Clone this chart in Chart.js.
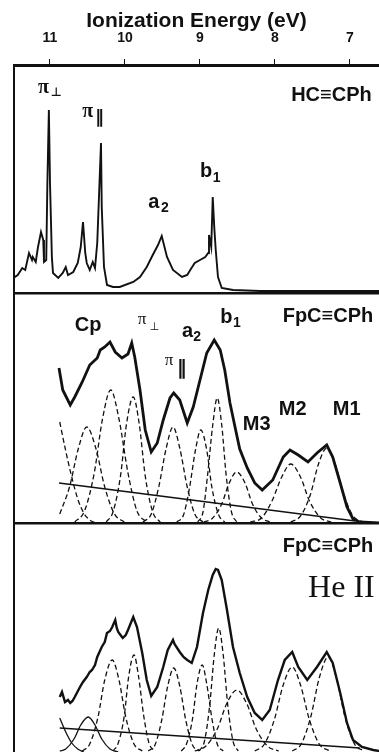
<!DOCTYPE html>
<html>
<head>
<meta charset="utf-8">
<script src="https://cdn.jsdelivr.net/npm/chart.js@4.4.1/dist/chart.umd.min.js"></script>
<style>
    html, body { margin: 0; padding: 0; background: #fff; }
    #wrap { position: relative; width: 379px; height: 752px; overflow: hidden; }
    .panel { position: absolute; left: 0; width: 379px; }
</style>
</head>
<body>
<div id="wrap">
    <div class="panel" style="top:0;height:293px"><canvas id="top-chart"></canvas></div>
    <div class="panel" style="top:290px;height:233px"><canvas id="mid-chart"></canvas></div>
    <div class="panel" style="top:520px;height:232px"><canvas id="bot-chart"></canvas></div>
</div>
<script>
// Axis
const energyTicks = [11, 10, 9, 8, 7];
const axisTitle = 'Ionization Energy (eV)';
const energyMin = 6.613;
const energyMax = 11.48;

// HC≡CPh, He I spectrum [eV, counts]
const hcSpectrum = [
    [11.49,15],[11.43,18],[11.37,25],[11.33,23],[11.28,40],[11.24,33],[11.23,36],[11.19,31],
    [11.16,46],[11.12,61],[11.09,53],[11.08,31],[11.05,33],[11.035,110],[11.015,183],[11.0,110],
    [10.975,36],[10.96,20],[10.89,15],[10.83,20],[10.79,26],[10.76,18],[10.69,21],[10.63,30],
    [10.59,46],[10.56,71],[10.53,40],[10.51,30],[10.47,23],[10.43,31],[10.40,25],[10.37,50],
    [10.35,90],[10.32,150],[10.31,86],[10.28,26],[10.24,8],[10.16,6],[10.07,6],[9.89,11],
    [9.80,16],[9.71,26],[9.63,38],[9.56,48],[9.51,57],[9.44,36],[9.36,23],[9.24,16],[9.17,18],
    [9.13,23],[9.07,30],[9.00,33],[8.93,36],[8.89,40],[8.88,58],[8.85,46],[8.83,96],[8.81,66],
    [8.79,43],[8.76,16],[8.71,5],[8.56,3],[8.20,2],[6.61,2]
];

// FpC≡CPh, He I: envelope, background and fitted bands
const midSpectrum = [
    [10.88,155],[10.83,133],[10.73,118],[10.67,126],[10.57,141],[10.47,158],[10.37,165],[10.33,173],
    [10.27,176],[10.20,181],[10.13,171],[10.04,165],[9.96,169],[9.91,180],[9.87,166],[9.80,133],
    [9.73,93],[9.65,71],[9.57,80],[9.49,103],[9.40,125],[9.35,130],[9.27,123],[9.17,100],[9.09,116],
    [9.00,143],[8.91,170],[8.81,183],[8.73,173],[8.67,153],[8.60,120],[8.53,95],[8.47,74],[8.37,55],
    [8.27,40],[8.17,33],[8.03,43],[7.89,66],[7.80,73],[7.69,68],[7.56,61],[7.44,70],[7.31,78],
    [7.23,66],[7.13,40],[7.04,16],[6.96,4],[6.87,1],[6.61,0]
];
const midBackground = [[10.88,40],[6.93,2]];
const midBand0 = [[10.87,101],[10.79,72],[10.71,46],[10.63,24],[10.55,10],[10.47,3],[10.39,0]];
const midBand1 = [[10.87,9],[10.74,36],[10.62,75],[10.51,96],[10.39,75],[10.27,36],[10.14,9],[10.01,1]];
const midBand2 = [[10.67,1],[10.54,12],[10.41,50],[10.30,104],[10.19,133],[10.08,104],[9.96,50],[9.84,12],[9.71,1]];
const midBand3 = [[10.25,1],[10.16,11],[10.06,47],[9.98,99],[9.89,126],[9.81,99],[9.73,47],[9.63,11],[9.53,1]];
const midBand4 = [[9.76,1],[9.65,9],[9.55,36],[9.45,75],[9.36,96],[9.27,75],[9.17,36],[9.07,9],[8.96,1]];
const midBand5 = [[9.31,1],[9.22,8],[9.14,35],[9.06,73],[8.99,93],[8.91,73],[8.84,35],[8.75,8],[8.67,1]];
const midBand6 = [[9.03,1],[8.96,11],[8.90,47],[8.83,98],[8.77,125],[8.71,98],[8.65,47],[8.58,11],[8.51,1]];
const midBand7 = [[8.95,1],[8.83,5],[8.71,19],[8.61,40],[8.51,51],[8.40,40],[8.30,19],[8.18,5],[8.07,1]];
const midBand8 = [[8.33,1],[8.18,5],[8.04,22],[7.91,46],[7.79,59],[7.66,46],[7.54,22],[7.39,5],[7.25,1]];
const midBand9 = [[7.79,1],[7.66,7],[7.53,28],[7.42,59],[7.31,75],[7.20,59],[7.08,28],[6.96,7],[6.83,1]];

// FpC≡CPh, He II: envelope, background and fitted bands
const botSpectrum = [
    [10.87,55],[10.84,60],[10.80,50],[10.76,52],[10.73,49],[10.70,51],[10.67,55],[10.60,65],[10.56,70],
    [10.51,75],[10.47,80],[10.44,82],[10.40,87],[10.37,95],[10.31,105],[10.27,110],[10.24,119],[10.20,121],
    [10.17,125],[10.13,132],[10.11,124],[10.09,120],[10.05,116],[10.03,114],[9.99,117],[9.96,122],[9.89,135],
    [9.84,125],[9.77,99],[9.71,72],[9.65,56],[9.57,65],[9.49,85],[9.43,102],[9.36,112],[9.34,108],[9.27,100],
    [9.22,95],[9.17,92],[9.11,89],[9.04,105],[8.96,139],[8.89,162],[8.83,177],[8.79,183],[8.76,182],[8.71,172],
    [8.64,142],[8.56,105],[8.47,79],[8.37,55],[8.27,39],[8.17,32],[8.07,42],[7.96,72],[7.87,92],[7.77,100],
    [7.69,85],[7.57,72],[7.44,85],[7.31,100],[7.23,89],[7.13,59],[7.04,29],[6.96,12],[6.84,5],[6.69,2],[6.61,1]
];
const botBackground = [[10.87,24],[6.87,4]];
const botBand0 = [[10.87,34],[10.79,20],[10.71,9],[10.63,3],[10.55,0]];
const botBand1 = [[10.87,1],[10.79,3],[10.68,13],[10.59,27],[10.49,35],[10.40,27],[10.31,13],[10.20,3],[10.09,0]];
const botBand2 = [[10.57,1],[10.47,8],[10.36,35],[10.27,72],[10.17,92],[10.08,72],[9.99,35],[9.88,8],[9.77,1]];
const botBand3 = [[10.16,1],[10.09,9],[10.01,36],[9.95,76],[9.88,97],[9.82,76],[9.75,36],[9.68,9],[9.60,1]];
const botBand4 = [[9.69,1],[9.60,7],[9.51,32],[9.43,66],[9.35,84],[9.27,66],[9.19,32],[9.10,7],[9.01,1]];
const botBand5 = [[9.25,1],[9.18,8],[9.10,33],[9.04,68],[8.97,87],[8.91,68],[8.84,33],[8.77,8],[8.69,1]];
const botBand6 = [[9.01,1],[8.94,11],[8.87,47],[8.81,97],[8.75,124],[8.69,97],[8.63,47],[8.56,11],[8.49,1]];
const botBand7 = [[9.07,1],[8.92,6],[8.77,23],[8.64,49],[8.51,62],[8.38,49],[8.25,23],[8.10,6],[7.95,1]];
const botBand8 = [[8.27,1],[8.14,8],[8.01,32],[7.89,67],[7.77,85],[7.66,67],[7.54,32],[7.41,8],[7.27,1]];
const botBand9 = [[7.77,1],[7.65,8],[7.52,36],[7.41,74],[7.29,95],[7.18,74],[7.07,36],[6.94,8],[6.81,1]];

// Panel text
const SANS = '"Liberation Sans", Arial, sans-serif';
const SERIF = '"Liberation Serif", "DejaVu Serif", serif';
const SYM = '"DejaVu Sans", sans-serif';

const topLabels = [
    { text: 'π', e: 11.16, i: 200, font: 'bold 20px ' + SERIF },
    { text: '⊥', e: 10.99, i: 197, font: 'bold 12px ' + SYM },
    { text: 'π', e: 10.57, i: 176, font: 'bold 20px ' + SERIF },
    { text: '‖', e: 10.40, i: 170, font: 'bold 18px ' + SYM },
    { text: 'a', e: 9.69, i: 85, font: 'bold 20px ' + SANS },
    { text: '2', e: 9.52, i: 81, font: 'bold 14px ' + SANS },
    { text: 'b', e: 9.0, i: 116, font: 'bold 20px ' + SANS },
    { text: '1', e: 8.83, i: 111, font: 'bold 14px ' + SANS },
    { text: 'HC≡CPh', e: 6.71, i: 192, font: 'bold 20px ' + SANS, align: 'right' }
];
const midLabels = [
    { text: 'FpC≡CPh', e: 6.69, i: 201, font: 'bold 20px ' + SANS, align: 'right' },
    { text: 'Cp', e: 10.67, i: 192, font: 'bold 20px ' + SANS },
    { text: 'π', e: 9.83, i: 199, font: '17px ' + SERIF },
    { text: '⊥', e: 9.67, i: 193, font: '11px ' + SYM },
    { text: 'a', e: 9.24, i: 186, font: 'bold 20px ' + SANS },
    { text: '2', e: 9.09, i: 182, font: 'bold 14px ' + SANS },
    { text: 'b', e: 8.73, i: 200, font: 'bold 20px ' + SANS },
    { text: '1', e: 8.56, i: 196, font: 'bold 14px ' + SANS },
    { text: 'π', e: 9.47, i: 158, font: '17px ' + SERIF },
    { text: '‖', e: 9.31, i: 149, font: 'bold 20px ' + SYM },
    { text: 'M3', e: 8.43, i: 93, font: 'bold 20px ' + SANS },
    { text: 'M2', e: 7.95, i: 108, font: 'bold 20px ' + SANS },
    { text: 'M1', e: 7.23, i: 108, font: 'bold 20px ' + SANS }
];
const botLabels = [
    { text: 'FpC≡CPh', e: 6.69, i: 200, font: 'bold 20px ' + SANS, align: 'right' },
    { text: 'He II', e: 6.67, i: 155, font: '32px ' + SERIF, align: 'right' }
];

const ink = '#111';

// Draw text labels at data coordinates
const panelLabels = {
    id: 'panelLabels',
    afterDatasetsDraw(chart, args, opts) {
        const ctx = chart.ctx;
        const xs = chart.scales.x;
        const ys = chart.scales.y;
        ctx.save();
        ctx.fillStyle = ink;
        ctx.textBaseline = 'alphabetic';
        (opts.items || []).forEach(item => {
            ctx.font = item.font;
            ctx.textAlign = item.align || 'left';
            ctx.fillText(item.text, xs.getPixelForValue(item.e), ys.getPixelForValue(item.i));
        });
        ctx.restore();
    }
};

function toXY(pairs) {
    return pairs.map(p => ({ x: p[0], y: p[1] }));
}

function traceDataset(pairs, width) {
    return {
        data: toXY(pairs),
        borderColor: ink,
        borderWidth: width,
        pointRadius: 0,
        tension: 0,
        fill: false
    };
}

function bandDataset(pairs, dashed) {
    return {
        data: toXY(pairs),
        borderColor: ink,
        borderWidth: 1.3,
        borderDash: dashed ? [5, 3] : [],
        pointRadius: 0,
        cubicInterpolationMode: 'monotone',
        fill: false
    };
}

// One panel; the top one carries the energy axis
function initPanel(canvasId, datasets, yMax, labels, withAxis) {
    const ctx = document.getElementById(canvasId);
    if (!ctx) return null;

    return new Chart(ctx.getContext('2d'), {
        type: 'line',
        data: { datasets: datasets },
        plugins: [panelLabels],
        options: {
            responsive: true,
            maintainAspectRatio: false,
            animation: false,
            devicePixelRatio: 1,
            layout: { padding: 0 },
            plugins: {
                legend: { display: false },
                tooltip: { enabled: false },
                panelLabels: { items: labels }
            },
            scales: {
                x: {
                    type: 'linear',
                    position: 'top',
                    reverse: true,
                    min: energyMin,
                    max: energyMax,
                    border: { display: true, color: ink, width: withAxis ? 3 : 2.5 },
                    grid: {
                        display: withAxis,
                        drawOnChartArea: false,
                        drawTicks: true,
                        tickLength: 6,
                        color: ink,
                        lineWidth: 1
                    },
                    ticks: {
                        display: withAxis,
                        color: ink,
                        padding: 12,
                        font: { family: SANS, size: 14, weight: 'bold' }
                    },
                    title: {
                        display: withAxis,
                        text: axisTitle,
                        color: ink,
                        padding: { top: 9, bottom: 0 },
                        font: { family: SANS, size: 21, weight: 'bold' }
                    },
                    afterBuildTicks: function(scale) {
                        scale.ticks = energyTicks.map(v => ({ value: v }));
                    },
                    afterFit: function(scale) {
                        scale.height = withAxis ? 65 : 3;
                    }
                },
                y: {
                    type: 'linear',
                    min: 0,
                    max: yMax,
                    border: { display: true, color: ink, width: 2 },
                    grid: { display: false },
                    ticks: { display: false },
                    afterFit: function(scale) {
                        scale.width = 14;
                    }
                }
            }
        }
    });
}

const midBands = [midBand0, midBand1, midBand2, midBand3, midBand4, midBand5, midBand6, midBand7, midBand8, midBand9];
const botBands = [botBand0, botBand1, botBand2, botBand3, botBand4, botBand5, botBand6, botBand7, botBand8, botBand9];

initPanel('top-chart', [traceDataset(hcSpectrum, 1.9)], 228, topLabels, true);

initPanel('mid-chart',
    [traceDataset(midSpectrum, 2.8), traceDataset(midBackground, 1.7)]
        .concat(midBands.map(b => bandDataset(b, true))),
    230, midLabels, false);

initPanel('bot-chart',
    [traceDataset(botSpectrum, 2.4), traceDataset(botBackground, 1.7)]
        .concat(botBands.map((b, k) => bandDataset(b, k > 1))),
    229, botLabels, false);
</script>
</body>
</html>
